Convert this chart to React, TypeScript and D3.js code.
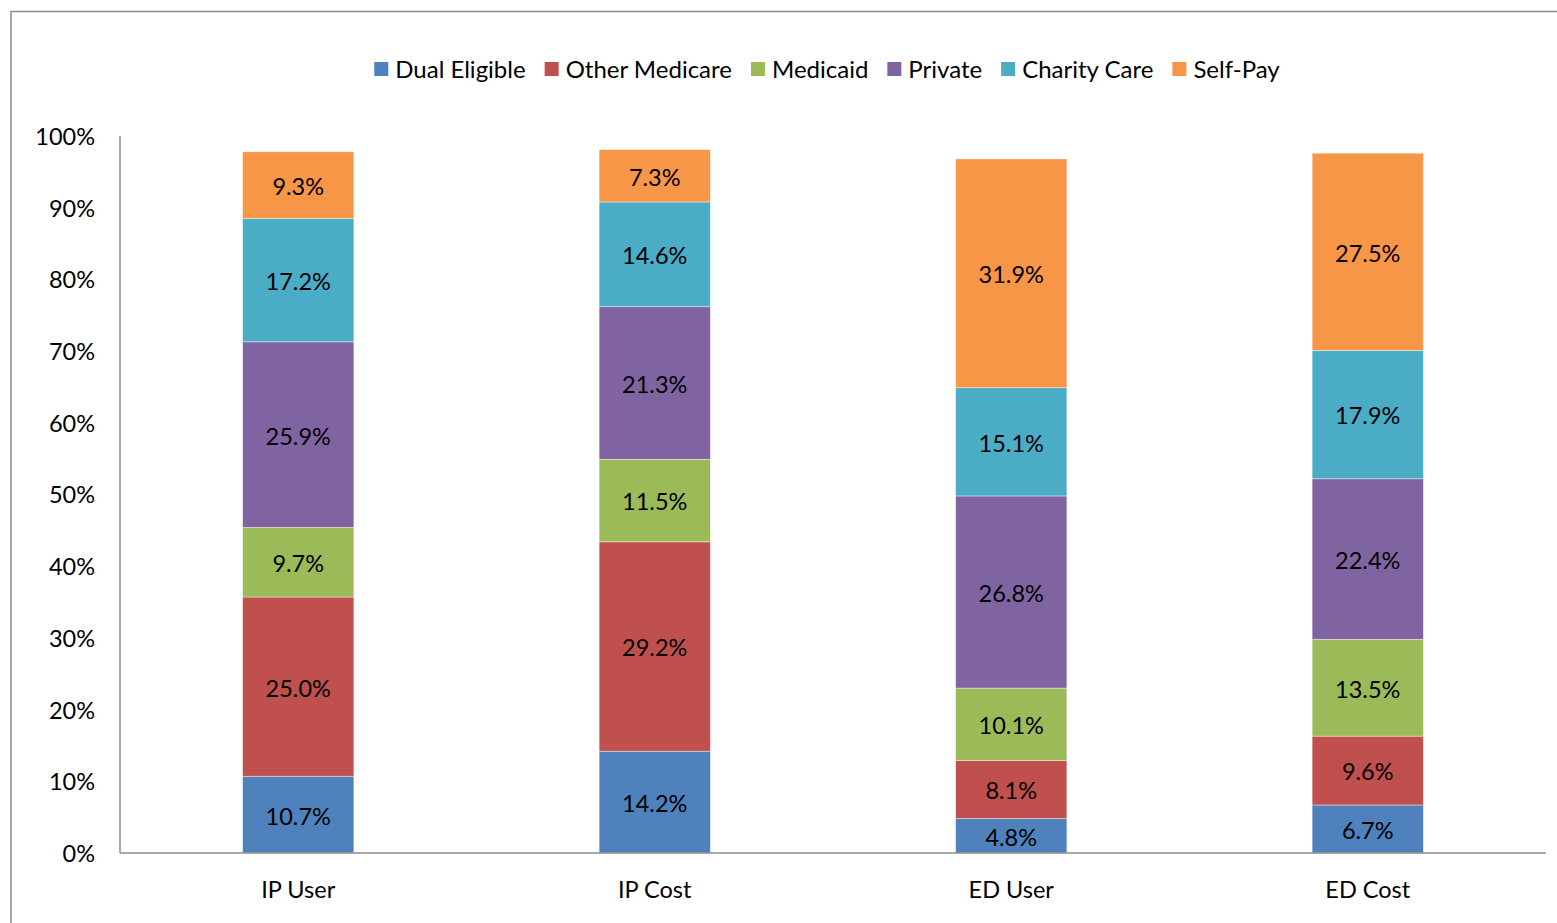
import { useEffect, useRef } from 'react';
import * as d3 from 'd3';

const categories = ['IP User', 'IP Cost', 'ED User', 'ED Cost'];
const seriesNames = ['Dual Eligible', 'Other Medicare', 'Medicaid', 'Private', 'Charity Care', 'Self-Pay'];
const seriesColors = ['#4F81BD', '#C0504D', '#9BBB59', '#8064A2', '#4BACC6', '#F79646'];

const dualEligible = [10.7, 14.2, 4.8, 6.7];
const otherMedicare = [25.0, 29.2, 8.1, 9.6];
const medicaid = [9.7, 11.5, 10.1, 13.5];
const privateIns = [25.9, 21.3, 26.8, 22.4];
const charityCare = [17.2, 14.6, 15.1, 17.9];
const selfPay = [9.3, 7.3, 31.9, 27.5];

const yTicks = [0, 10, 20, 30, 40, 50, 60, 70, 80, 90, 100];

const FONT = 'Lato, "Open Sans", sans-serif';

const App = () => {
  const svgRef = useRef<SVGSVGElement>(null);

  useEffect(() => {
    const svg = d3.select(svgRef.current);
    svg.selectAll('*').remove();

    const W = 1557;
    const H = 923;
    const margin = { top: 136, right: 11, bottom: 70, left: 120 };
    const innerW = W - margin.left - margin.right;
    const innerH = H - margin.top - margin.bottom;

    // outer chart frame (runs off the right/bottom edge)
    svg
      .append('rect')
      .attr('x', 11)
      .attr('y', 11.5)
      .attr('width', W)
      .attr('height', H)
      .attr('fill', 'none')
      .attr('stroke', '#8c8c8c')
      .attr('stroke-width', 1.5);

    const table = categories.map((c, i) => ({
      cat: c,
      'Dual Eligible': dualEligible[i],
      'Other Medicare': otherMedicare[i],
      Medicaid: medicaid[i],
      Private: privateIns[i],
      'Charity Care': charityCare[i],
      'Self-Pay': selfPay[i],
    }));

    const stack = d3.stack<any>().keys(seriesNames)(table);

    const x = d3.scaleBand().domain(categories).range([0, innerW]).paddingInner(0.688).paddingOuter(0.344);
    const y = d3.scaleLinear().domain([0, 100]).range([innerH, 0]);
    const color = d3.scaleOrdinal<string>().domain(seriesNames).range(seriesColors);

    const g = svg.append('g').attr('transform', `translate(${margin.left},${margin.top})`);

    // y tick labels
    g.selectAll('.ytick')
      .data(yTicks)
      .enter()
      .append('text')
      .attr('x', -25)
      .attr('y', d => y(d))
      .attr('dy', '0.38em')
      .attr('text-anchor', 'end')
      .style('font-family', FONT)
      .style('font-size', '23.5px')
      .attr('fill', '#000')
      .text(d => `${d}%`);

    // bars
    stack.forEach(layer => {
      const key = layer.key;
      g.selectAll(`.seg-${seriesNames.indexOf(key)}`)
        .data(layer)
        .enter()
        .append('rect')
        .attr('x', d => x(d.data.cat)!)
        .attr('width', x.bandwidth())
        .attr('y', d => y(d[1]))
        .attr('height', d => y(d[0]) - y(d[1]))
        .attr('fill', color(key))
        .attr('stroke', '#ffffff')
        .attr('stroke-opacity', 0.5)
        .attr('stroke-width', 0.8);

      g.selectAll(`.lab-${seriesNames.indexOf(key)}`)
        .data(layer)
        .enter()
        .append('text')
        .attr('x', d => x(d.data.cat)! + x.bandwidth() / 2)
        .attr('y', d => (y(d[0]) + y(d[1])) / 2)
        .attr('dy', '0.42em')
        .attr('text-anchor', 'middle')
        .style('font-family', FONT)
        .style('font-size', '23.5px')
        .attr('fill', '#000')
        .text(d => `${(d[1] - d[0]).toFixed(1)}%`);
    });

    // axis lines
    g.append('line')
      .attr('x1', 0)
      .attr('x2', 0)
      .attr('y1', 0)
      .attr('y2', innerH)
      .attr('stroke', '#8c8c8c')
      .attr('stroke-width', 1.5);
    g.append('line')
      .attr('x1', 0)
      .attr('x2', innerW)
      .attr('y1', innerH)
      .attr('y2', innerH)
      .attr('stroke', '#8c8c8c')
      .attr('stroke-width', 1.5);

    // category labels
    g.selectAll('.xlab')
      .data(categories)
      .enter()
      .append('text')
      .attr('x', d => x(d)! + x.bandwidth() / 2)
      .attr('y', innerH + 36)
      .attr('dy', '0.38em')
      .attr('text-anchor', 'middle')
      .style('font-family', FONT)
      .style('font-size', '23.5px')
      .attr('fill', '#000')
      .text(d => d);

    // legend
    const legend = svg.append('g');
    const items = legend
      .selectAll('g')
      .data(seriesNames)
      .enter()
      .append('g');
    items
      .append('rect')
      .attr('width', 14)
      .attr('height', 14)
      .attr('y', 62)
      .attr('fill', d => color(d));
    items
      .append('text')
      .attr('x', 21)
      .attr('y', 69)
      .attr('dy', '0.36em')
      .style('font-family', FONT)
      .style('font-size', '24px')
      .attr('fill', '#000')
      .text(d => d);

    const widths: number[] = [];
    items.each(function () {
      const t = d3.select(this).select('text').node() as SVGTextElement;
      widths.push(21 + t.getComputedTextLength());
    });
    const gap = 19;
    const total = d3.sum(widths) + gap * (widths.length - 1);
    const offset = (369 + 1285) / 2 - total / 2;
    items.attr('transform', (d, i) => {
      const tx = offset + d3.sum(widths.slice(0, i)) + gap * i;
      return `translate(${tx},0)`;
    });
  }, []);

  return (
    <svg
      ref={svgRef}
      width={1557}
      height={923}
      style={{ position: 'absolute', left: 0, top: 0, background: '#fff' }}
    />
  );
};

export default App;
